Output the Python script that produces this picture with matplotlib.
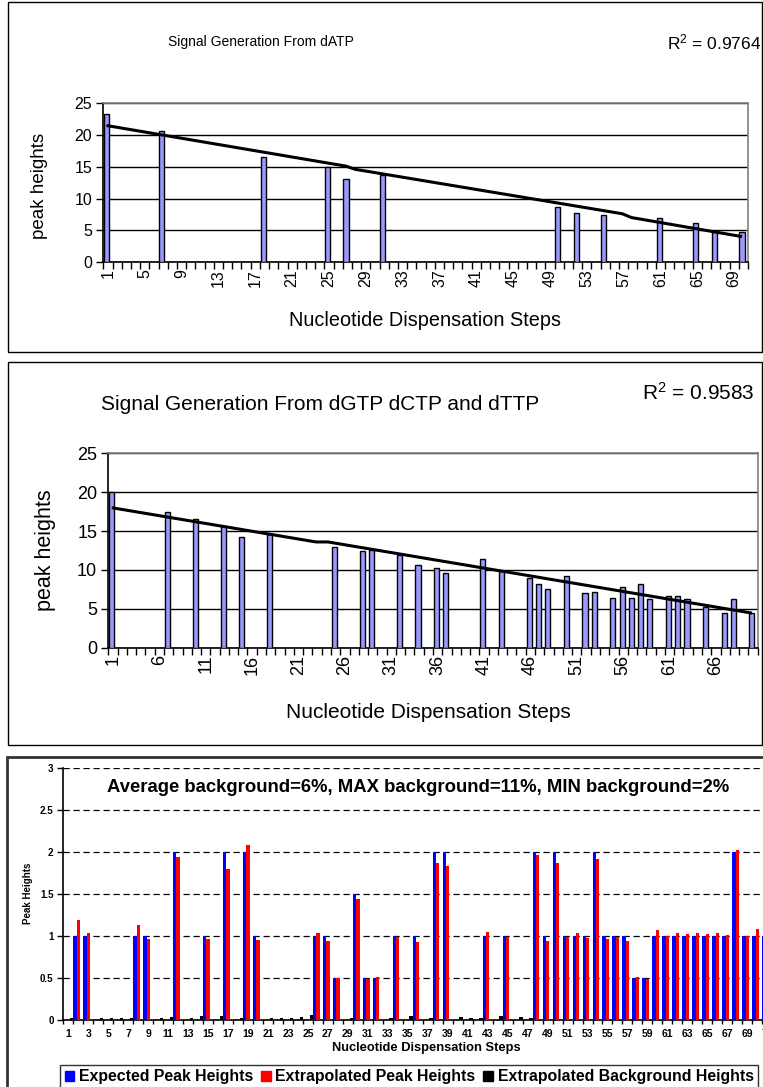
import matplotlib
matplotlib.use("Agg")
import matplotlib.pyplot as plt
from matplotlib.patches import Rectangle, Patch
from matplotlib.ticker import FixedLocator
import numpy as np

plt.rcParams['font.family'] = ['Liberation Sans', 'DejaVu Sans']
plt.rcParams['mathtext.fontset'] = 'custom'
plt.rcParams['mathtext.rm'] = 'Liberation Sans'
plt.rcParams['mathtext.it'] = 'Liberation Sans:italic'
plt.rcParams['mathtext.bf'] = 'Liberation Sans:bold'

# ---------------- data ----------------
# Panel 1: dATP
p1_title = "Signal Generation From dATP"
p1_r2 = "0.9764"
p1_steps = [1, 7, 18, 25, 27, 31, 50, 52, 55, 61, 65, 67, 70]
p1_heights = [23.3, 20.7, 16.5, 15.0, 13.1, 13.7, 8.7, 7.7, 7.4, 6.9, 6.2, 4.7, 4.7]
p1_trend_x = [1, 27, 28, 57, 58, 70]
p1_trend_y = [21.5, 15.1, 14.6, 7.6, 7.0, 4.0]
p1_n = 70
p1_labels = list(range(1, 70, 4))

# Panel 2: dGTP dCTP dTTP
p2_title = "Signal Generation From dGTP dCTP and dTTP"
p2_r2 = "0.9583"
p2_steps = [1, 7, 10, 13, 15, 18, 25, 28, 29, 32, 34, 36, 37, 41, 43, 46, 47, 48, 50, 52,
            53, 55, 56, 57, 58, 59, 61, 62, 63, 65, 67, 68, 70]
p2_heights = [20.0, 17.4, 16.6, 15.7, 14.2, 14.6, 13.0, 12.4, 12.6, 11.9, 10.6, 10.2, 9.6, 11.4,
              9.9, 9.0, 8.2, 7.6, 9.2, 7.0, 7.2, 6.4, 7.8, 6.4, 8.2, 6.2, 6.6, 6.6, 6.2, 5.2,
              4.4, 6.2, 4.5]
p2_trend_x = [1, 23, 24.3, 70]
p2_trend_y = [18.0, 13.6, 13.6, 4.45]
p2_n = 70
p2_labels = list(range(1, 70, 5))

# Panel 3: expected / extrapolated / background (steps 1..71)
p3_title = "Average background=6%, MAX background=11%, MIN background=2%"
p3_expected = [0, 1, 1, 0, 0, 0, 0, 1, 1, 0,
               0, 2, 0, 0, 1, 0, 2, 0, 2, 1,
               0, 0, 0, 0, 0, 1, 1, 0.5, 0, 1.5,
               0.5, 0.5, 0, 1, 0, 1, 0, 2, 2, 0,
               0, 0, 1, 0, 1, 0, 0, 2, 1, 2,
               1, 1, 1, 2, 1, 1, 1, 0.5, 0.5, 1,
               1, 1, 1, 1, 1, 1, 1, 2, 1, 1,
               1]
p3_extrap = [0, 1.19, 1.04, 0, 0, 0, 0, 1.135, 0.968, 0,
             0, 1.933, 0, 0, 0.96, 0, 1.80, 0, 2.087, 0.948,
             0, 0, 0, 0, 0, 1.04, 0.944, 0.5, 0, 1.44,
             0.496, 0.516, 0, 0.984, 0, 0.933, 0, 1.873, 1.83, 0,
             0, 0, 1.05, 0, 0.99, 0, 0, 1.968, 0.944, 1.873,
             0.99, 1.04, 0.98, 1.909, 0.968, 0.99, 0.944, 0.516, 0.488, 1.075,
             0.996, 1.04, 1.028, 1.04, 1.028, 1.04, 1.008, 2.016, 0.996, 1.087,
             1.0]
p3_background = [0.024, 0, 0, 0.024, 0.024, 0.024, 0.032, 0, 0, 0.03,
                 0.044, 0, 0.03, 0.056, 0, 0.056, 0, 0.024, 0, 0,
                 0.03, 0.024, 0.024, 0.044, 0.067, 0, 0, 0, 0.03, 0,
                 0, 0, 0.03, 0, 0.056, 0, 0.03, 0, 0, 0.044,
                 0.024, 0.032, 0, 0.056, 0, 0.044, 0.032, 0, 0, 0,
                 0, 0, 0, 0, 0, 0, 0, 0, 0, 0,
                 0, 0, 0, 0, 0, 0, 0, 0, 0, 0,
                 0]
p3_series_names = ["Expected Peak Heights", "Extrapolated Peak Heights",
                   "Extrapolated Background Heights"]
x_title = "Nucleotide Dispensation Steps"

# ---------------- layout helpers ----------------
W, H = 763, 1087
fig = plt.figure(figsize=(W / 100, H / 100), dpi=100)


def ax_px(l, t, r, b):
    return fig.add_axes([l / W, 1 - b / H, (r - l) / W, (b - t) / H])


def fx(x):
    return x / W


def fy(y):
    return 1 - y / H


def frame(l, t, r, b, lw=1.0, color='black'):
    fig.add_artist(Rectangle((fx(l), fy(b)), fx(r) - fx(l), fy(t) - fy(b),
                             transform=fig.transFigure, fill=False, lw=lw,
                             edgecolor=color))


BAR = '#9999ff'


def bar_panel(ax, n, steps, heights, tx, ty, labels, fs_tick, width, off):
    ax.set_xlim(0.5, n + 0.5)
    ax.set_ylim(0, 25)
    ax.bar(np.array(steps) + off, heights, width=width, color=BAR,
           edgecolor='black', linewidth=1.0, zorder=3)
    ax.plot(np.array(tx) + off, ty, color='black', lw=2.2, zorder=4,
            solid_capstyle='butt')
    ax.set_yticks([0, 5, 10, 15, 20, 25])
    ax.yaxis.grid(True, color='black', lw=1.0)
    ax.set_axisbelow(True)
    ax.xaxis.set_major_locator(FixedLocator(labels))
    ax.set_xticklabels([str(v) for v in labels], rotation=90, fontsize=fs_tick)
    ax.xaxis.set_minor_locator(FixedLocator(np.arange(0.5, n + 1.0, 1.0)))
    ax.tick_params(axis='x', which='major', length=0, pad=5)
    ax.tick_params(axis='x', which='minor', length=5, width=1, color='black')
    ax.tick_params(axis='y', length=5, width=1, labelsize=fs_tick, pad=3)
    for s in ['left', 'bottom']:
        ax.spines[s].set_color('black')
        ax.spines[s].set_linewidth(1.2)
    for s in ['top', 'right']:
        ax.spines[s].set_color('#808080')
        ax.spines[s].set_linewidth(1.2)


# ---------------- panel 1 ----------------
frame(8, 2, 762, 352)
ax1 = ax_px(103.3, 103.3, 748, 262)
bar_panel(ax1, p1_n, p1_steps, p1_heights, p1_trend_x, p1_trend_y, p1_labels,
          11.5, 0.55, -0.15)
fig.text(fx(261), fy(42), p1_title, ha='center', va='center', fontsize=10)
fig.text(fx(761), fy(42), r"R$^2$ = " + p1_r2, ha='right', va='center', fontsize=12.5)
fig.text(fx(40), fy(186), "peak heights", rotation=90, ha='center', va='center',
         fontsize=13.5)
fig.text(fx(425), fy(320), x_title, ha='center', va='center', fontsize=14.3)

# ---------------- panel 2 ----------------
frame(8, 362, 762, 745)
ax2 = ax_px(108.3, 453.3, 757.7, 647.7)
bar_panel(ax2, p2_n, p2_steps, p2_heights, p2_trend_x, p2_trend_y, p2_labels,
          13, 0.55, -0.12)
fig.text(fx(320), fy(405), p2_title, ha='center', va='center', fontsize=15)
fig.text(fx(755), fy(393), r"R$^2$ = " + p2_r2, ha='right', va='center', fontsize=15)
fig.text(fx(45), fy(550), "peak heights", rotation=90, ha='center', va='center',
         fontsize=15.5)
fig.text(fx(428), fy(712), x_title, ha='center', va='center', fontsize=15)

# ---------------- panel 3 ----------------
frame(7, 757, 775, 1095, lw=2.0, color='#333333')
n3 = len(p3_expected)
cat_w = 9.985
ax3 = ax_px(63.3, 767.6, 63.3 + n3 * cat_w, 1020.3)
idx = np.arange(1, n3 + 1)
bw = 1 / 3
ax3.bar(idx - 0.5 + bw / 2, p3_expected, width=bw, color='#0000ff', zorder=3,
        label=p3_series_names[0])
ax3.bar(idx - 0.5 + 1.5 * bw, p3_extrap, width=bw, color='#ff0000', zorder=3,
        label=p3_series_names[1])
ax3.bar(idx - 0.5 + 2.5 * bw, p3_background, width=bw, color='#000000', zorder=3,
        label=p3_series_names[2])
ax3.set_xlim(0.5, n3 + 0.5)
ax3.set_ylim(0, 3)
ax3.set_yticks([0, 0.5, 1, 1.5, 2, 2.5, 3])
ax3.set_yticklabels(['0', '0.5', '1', '1.5', '2', '2.5', '3'], fontsize=7,
                    fontweight='bold')
ax3.yaxis.grid(True, color='black', lw=0.9, ls=(0, (5, 3)))
ax3.set_axisbelow(True)
lab3 = list(range(1, n3 + 1, 2))
ax3.xaxis.set_major_locator(FixedLocator(lab3))
ax3.set_xticklabels([str(v) for v in lab3], fontsize=7.5, fontweight='bold')
ax3.xaxis.set_minor_locator(FixedLocator(np.arange(0.5, n3 + 1.0, 1.0)))
ax3.tick_params(axis='x', which='major', length=0, pad=6)
ax3.tick_params(axis='x', which='minor', length=3, width=1, color='black')
ax3.tick_params(axis='y', length=4, width=1, pad=3)
for s in ['top', 'right']:
    ax3.spines[s].set_visible(False)
for s in ['left', 'bottom']:
    ax3.spines[s].set_linewidth(1.2)
fig.text(fx(418), fy(787), p3_title, ha='center', va='center', fontsize=13.3,
         fontweight='bold')
fig.text(fx(28), fy(893), "Peak Heights", rotation=90, ha='center', va='center',
         fontsize=7, fontweight='bold')
fig.text(fx(426), fy(1048), x_title, ha='center', va='center', fontsize=9.3,
         fontweight='bold')
handles = [Patch(color='#0000ff'), Patch(color='#ff0000'), Patch(color='#000000')]
leg = fig.legend(handles, p3_series_names, loc='center left',
                 bbox_to_anchor=(fx(60), fy(1077)), ncol=3, frameon=True,
                 fancybox=False, edgecolor='black',
                 prop={'weight': 'bold', 'size': 11.4}, handlelength=0.6,
                 handleheight=0.6, handletextpad=0.3, columnspacing=0.5,
                 borderpad=0.3, borderaxespad=0)
leg.get_frame().set_linewidth(1.0)

fig.savefig("out.png", dpi=100)
